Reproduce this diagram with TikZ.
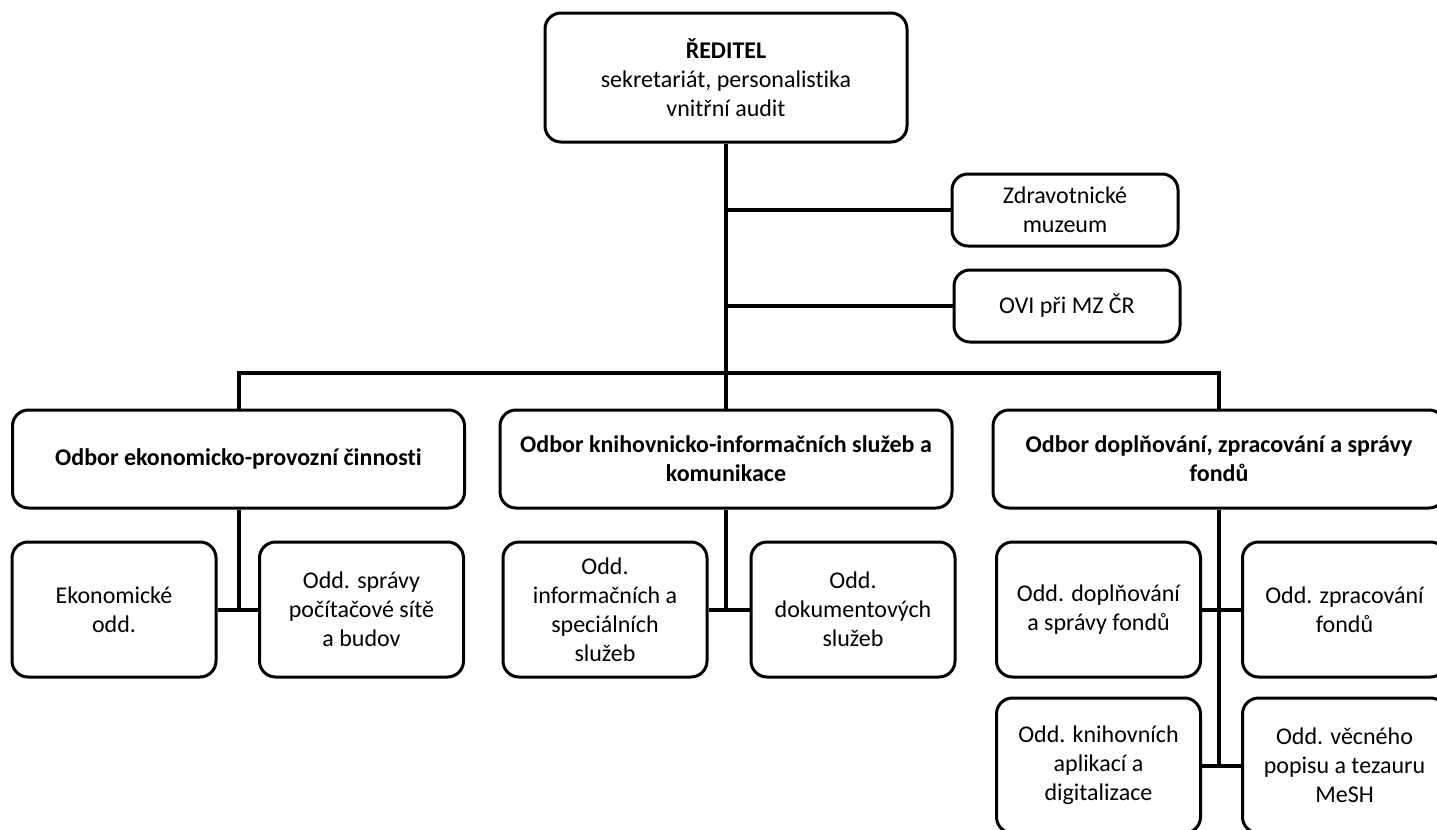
\documentclass[tikz,border=0pt]{standalone}
\usepackage{fontspec}
\setmainfont{Carlito}[Ligatures=NoCommon]
\tikzset{
  box/.style={draw, line width=1.5pt, rounded corners=8pt, align=center, inner sep=2pt, font=\fontsize{12}{14.5}\selectfont},
  odbor/.style={box, minimum width=226pt, minimum height=49pt, font=\fontsize{12}{14.5}\selectfont\bfseries},
  oddeleni/.style={box, minimum width=102pt, minimum height=67.5pt},
  link/.style={line width=2pt},
}
\begin{document}
\begin{tikzpicture}[x=0.5pt,y=-0.5pt]
        \useasboundingbox (0,0) rectangle (1437,830);

        %%%%%%%% Vedeni %%%%%%%%
        \node[box, minimum width=181pt, minimum height=64.5pt] (reditel) at (726,77.5)
          {\textbf{ŘEDITEL}\\sekretariát, personalistika\\vnitřní audit};
        \node[box, minimum width=113pt, minimum height=36pt] (muzeum) at (1065,210) {Zdravotnické\\muzeum};
        \node[box, minimum width=113pt, minimum height=36pt] (ovi) at (1067,306) {OVI při MZ ČR};

        %%%%%%%% Odbory %%%%%%%%
        \node[odbor] (odborA) at (238.5,459) {Odbor ekonomicko-provozní činnosti};
        \node[odbor] (odborB) at (726,459) {Odbor knihovnicko-informačních služeb a\\komunikace};
        \node[odbor] (odborC) at (1219,459) {Odbor doplňování, zpracování a správy\\fondů};

        %%%%%%%% Oddeleni %%%%%%%%
        \node[oddeleni] (ekon) at (114,609.5) {Ekonomické\\odd.};
        \node[oddeleni] (sit) at (361.5,609.5) {Odd. správy\\počítačové sítě\\a budov};
        \node[oddeleni] (inf) at (605,609.5) {Odd.\\informačních a\\speciálních\\služeb};
        \node[oddeleni] (dok) at (853,609.5) {Odd.\\dokumentových\\služeb};
        \node[oddeleni] (dopl) at (1098.5,609.5) {Odd. doplňování\\a správy fondů};
        \node[oddeleni] (zprac) at (1344.5,609.5) {Odd. zpracování\\fondů};
        \node[oddeleni] (apl) at (1098.5,765.5) {Odd. knihovních\\aplikací a\\digitalizace};
        \node[oddeleni] (vecny) at (1344.5,765.5) {Odd. věcného\\popisu a tezauru\\MeSH};

        %%%%%%%% Spojnice %%%%%%%%
        \coordinate (lista) at (726,373);
        \draw[link] (reditel.south) -- (odborB.north);
        \draw[link] (reditel.south |- muzeum.west) -- (muzeum.west);
        \draw[link] (reditel.south |- ovi.west) -- (ovi.west);
        \draw[link] (odborA.north) |- (lista) -| (odborC.north);

        \draw[link] (odborA.south) -- (odborA.south |- ekon.east);
        \draw[link] (ekon.east) -- (sit.west);
        \draw[link] (odborB.south) -- (odborB.south |- inf.east);
        \draw[link] (inf.east) -- (dok.west);
        \draw[link] (odborC.south) -- (odborC.south |- apl.east);
        \draw[link] (dopl.east) -- (zprac.west);
        \draw[link] (apl.east) -- (vecny.west);
    \end{tikzpicture}
\end{document}
